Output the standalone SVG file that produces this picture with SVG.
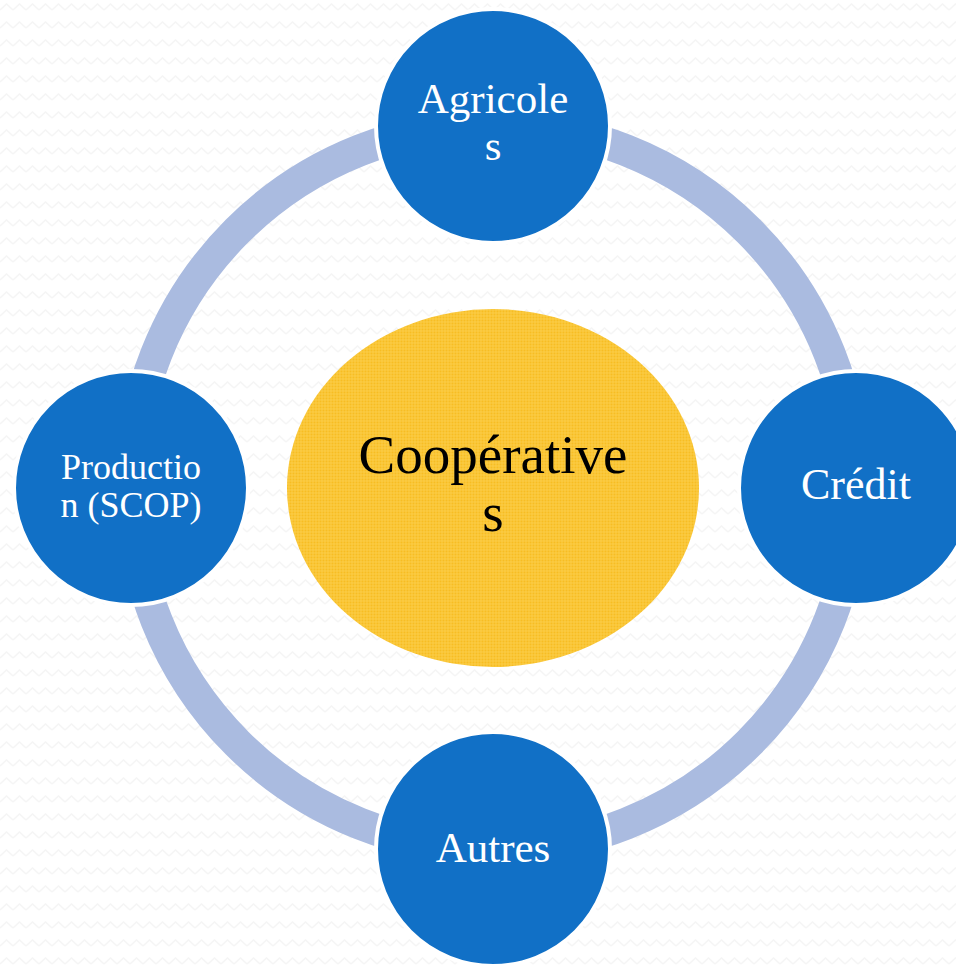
<svg xmlns="http://www.w3.org/2000/svg" width="956" height="965" viewBox="0 0 956 965">
  <defs>
    <pattern id="bg" width="13" height="18" patternUnits="userSpaceOnUse">
      <rect width="13" height="18" fill="#ffffff"/>
      <polyline points="0,10 6.5,4 13,10" fill="none" stroke="#f5f5f5" stroke-width="1.5"/>
    </pattern>
    <pattern id="grid" width="6" height="6" patternUnits="userSpaceOnUse">
      <rect width="6" height="6" fill="#f7bd22"/>
      <path d="M0,1 H6 M0,4 H6 M1,0 V6 M4,0 V6" stroke="#fdd151" stroke-width="0.8" fill="none"/>
    </pattern>
    <style>
      .node { fill: #1170c6; stroke: #ffffff; stroke-width: 4; }
      .lbl { font-family: "Liberation Serif", "Times New Roman", serif; fill: #ffffff; text-anchor: middle; }
      .center-lbl { font-family: "Liberation Serif", "Times New Roman", serif; fill: #000000; text-anchor: middle; font-size: 55px; }
    </style>
  </defs>
  <rect width="956" height="965" fill="url(#bg)"/>
  <g id="connectors">
    <circle cx="493" cy="487" r="362" fill="none" stroke="#aabbe0" stroke-width="32"/>
  </g>
  <g id="center">
    <ellipse cx="493" cy="488" rx="206" ry="179" fill="url(#grid)"/>
    <text class="center-lbl" x="493" y="473">Coopérative</text>
    <text class="center-lbl" x="493" y="531">s</text>
  </g>
  <g id="agricoles">
    <circle class="node" cx="493" cy="126" r="117"/>
    <text class="lbl" x="493" y="113" font-size="43">Agricole</text>
    <text class="lbl" x="493" y="160" font-size="43">s</text>
  </g>
  <g id="credit">
    <circle class="node" cx="856" cy="488" r="117"/>
    <text class="lbl" x="856" y="499" font-size="44">Crédit</text>
  </g>
  <g id="autres">
    <circle class="node" cx="493" cy="849" r="117"/>
    <text class="lbl" x="493" y="862" font-size="43">Autres</text>
  </g>
  <g id="production">
    <circle class="node" cx="131" cy="488" r="117"/>
    <text class="lbl" x="131" y="479" font-size="36">Productio</text>
    <text class="lbl" x="131" y="517" font-size="36">n (SCOP)</text>
  </g>
</svg>
